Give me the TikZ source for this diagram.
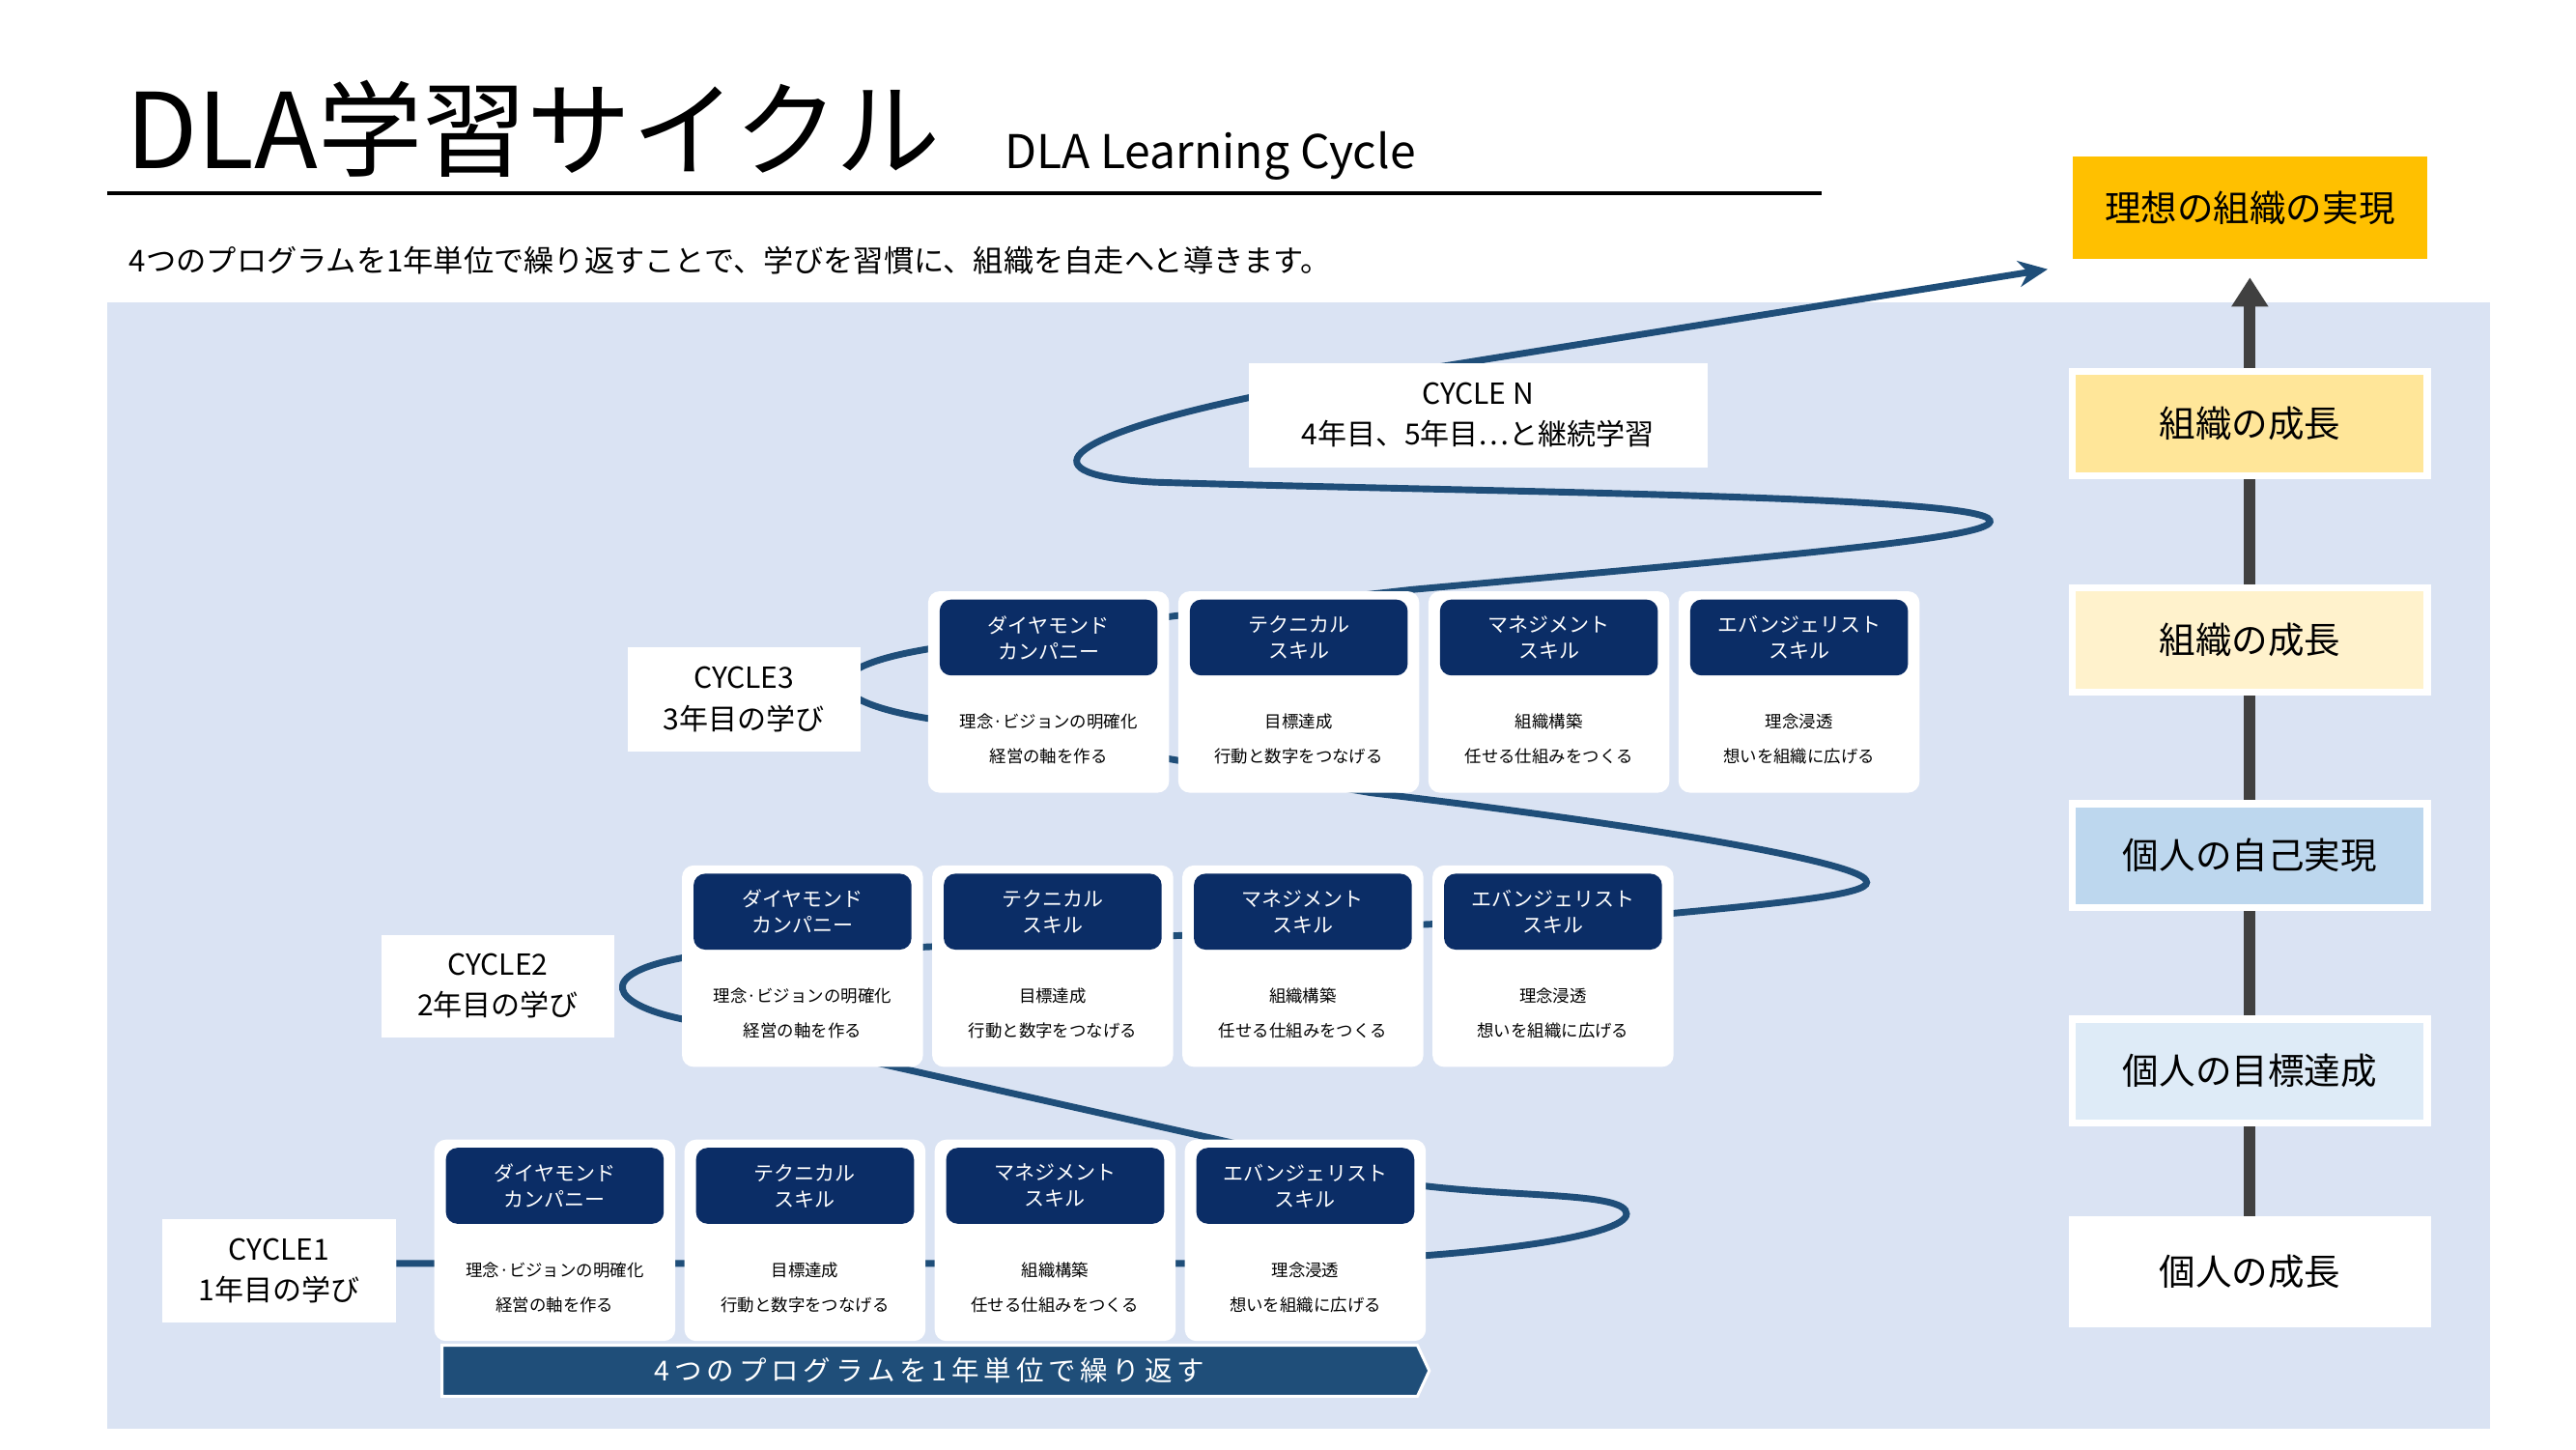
\documentclass[tikz,border=0pt]{standalone}
\usepackage{fontspec}
\setmainfont{Noto Sans CJK JP}
\usepackage{tikz}
\usetikzlibrary{arrows.meta}
\usetikzlibrary{shapes.symbols}
\definecolor{navy}{HTML}{0B2D66}
\definecolor{spiral}{HTML}{1F4E79}
\definecolor{bgblue}{HTML}{DAE3F3}
\definecolor{goalorange}{HTML}{FFC000}
\definecolor{growdark}{HTML}{FFE699}
\definecolor{growlight}{HTML}{FFF2CC}
\definecolor{selfdark}{HTML}{BDD7EE}
\definecolor{selflight}{HTML}{DEEBF7}
\tikzset{
  card/.style={fill=white, rounded corners=4pt, minimum width=2.92cm, minimum height=2.44cm},
  head/.style={fill=navy, rounded corners=4pt, minimum width=2.64cm, minimum height=0.92cm, text=white, align=center, font=\fontsize{7}{9}\selectfont},
  body/.style={font=\fontsize{5.8}{7}\selectfont},
  cyclelabel/.style={fill=white, align=center, font=\fontsize{10}{14}\selectfont, inner sep=0pt},
  stage/.style={draw=white, line width=2.5pt, minimum width=4.3cm, minimum height=1.26cm, font=\fontsize{12.5}{14}\selectfont},
}
\begin{document}
\begin{tikzpicture}[x=0.02cm, y=-0.02cm]
\useasboundingbox (0,0) rectangle (1560,877.5);

% title
\node[anchor=base west, inner sep=0pt, font=\fontsize{36}{40}\selectfont] (title) at (76,102) {DLA学習サイクル};
\node[anchor=base west, inner sep=0pt, font=\fontsize{16}{18}\selectfont] (subtitle) at (608,102) {DLA Learning Cycle};
\draw[line width=1.2pt] (65,117) -- (1103,117);
\node[anchor=west, inner sep=0pt, font=\fontsize{10.4}{12}\selectfont] (lead) at (78,158) {4つのプログラムを1年単位で繰り返すことで、学びを習慣に、組織を自走へと導きます。};

% background
\fill[bgblue] (65,183) rectangle (1508,865);

% spiral
\coordinate (spiralend) at (1240,163);
\draw[spiral, line width=2.3pt, -{Stealth[length=10pt,width=9pt]}]
  (240,765) -- (760,765) .. controls (900,762) and (985,748) .. (985,735)
  .. controls (985,722) and (920,725) .. (862,718) -- (413,617)
  .. controls (370,608) and (360,590) .. (413,580) -- (1013,553)
  .. controls (1100,545) and (1135,540) .. (1130,533)
  .. controls (1125,522) and (1000,500) .. (830,480) -- (562,435)
  .. controls (500,425) and (490,405) .. (562,393) -- (711,373) -- (855,357)
  .. controls (1100,335) and (1210,325) .. (1205,315)
  .. controls (1200,300) and (900,298) .. (700,292)
  .. controls (620,288) and (640,265) .. (760,240) -- (spiralend);

% cycle labels
\node[cyclelabel, minimum width=2.84cm, minimum height=1.26cm] (c1) at (169,769.5) {CYCLE1\\1年目の学び};
\node[cyclelabel, minimum width=2.82cm, minimum height=1.24cm] (c2) at (301.5,597) {CYCLE2\\2年目の学び};
\node[cyclelabel, minimum width=2.82cm, minimum height=1.26cm] (c3) at (450.5,423.5) {CYCLE3\\3年目の学び};
\node[cyclelabel, minimum width=5.56cm, minimum height=1.26cm] (cn) at (895,251.5) {CYCLE N\\4年目、5年目…と継続学習};

% program cards
\foreach \r/\x/\y in {1/263/690, 2/413/524, 3/562/358}{
  \foreach \i/\h/\a/\b in {1/{ダイヤモンド\\カンパニー}/理念·ビジョンの明確化/経営の軸を作る,
                           2/{テクニカル\\スキル}/目標達成/行動と数字をつなげる,
                           3/{マネジメント\\スキル}/組織構築/任せる仕組みをつくる,
                           4/{エバンジェリスト\\スキル}/理念浸透/想いを組織に広げる}{
    \pgfmathsetmacro{\cx}{\x+73+151.5*(\i-1)}
    \node[card] (card\r\i) at (\cx,\y+61) {};
    \node[head] (head\r\i) at (\cx,\y+28) {\h};
    \node[body] (top\r\i) at (\cx,\y+79) {\a};
    \node[body] (bot\r\i) at (\cx,\y+100) {\b};
  }
}

% banner
\node[signal, signal to=east, signal pointer angle=130, fill=spiral, draw=white, line width=1pt,
  text=white, minimum width=11.96cm, minimum height=0.62cm, inner sep=0pt,
  font=\fontsize{9.5}{11}\selectfont] (banner) at (563,830)
  {4\,つ\,の\,プ\,ロ\,グ\,ラ\,ム\,を\,1\,年\,単\,位\,で\,繰\,り\,返\,す};

% growth ladder
\node[stage, fill=white] (s1) at (1362.5,770) {個人の成長};
\node[stage, fill=selflight] (s2) at (1362.5,648.5) {個人の目標達成};
\node[stage, fill=selfdark] (s3) at (1362.5,518) {個人の自己実現};
\node[stage, fill=growlight] (s4) at (1362.5,387.5) {組織の成長};
\node[stage, fill=growdark] (s5) at (1362.5,256.5) {組織の成長};
\node[fill=goalorange, minimum width=4.3cm, minimum height=1.24cm, font=\fontsize{12.5}{14}\selectfont] (goal) at (1362.5,126) {理想の組織の実現};
\draw[black!75, line width=4pt] (s1) -- (s2);
\draw[black!75, line width=4pt] (s2) -- (s3);
\draw[black!75, line width=4pt] (s3) -- (s4);
\draw[black!75, line width=4pt] (s4) -- (s5);
\draw[black!75, line width=4pt, -{Triangle[length=10pt,width=12pt]}] (s5) -- (1362.5,168);

\end{tikzpicture}
\end{document}
